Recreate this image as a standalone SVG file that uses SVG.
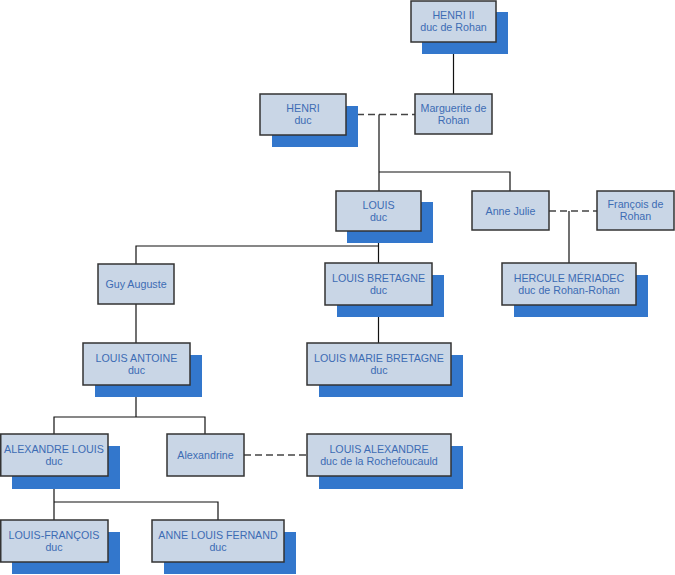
<svg xmlns="http://www.w3.org/2000/svg" width="675" height="575" viewBox="0 0 675 575">
<style>
.sh{fill:#3377cc}
.bx{fill:#c9d6e6;stroke:#333;stroke-width:1.5}
.t{font-family:"Liberation Sans",Arial,sans-serif;font-size:10.7px;fill:#3d6cb4;text-anchor:middle}
.ln{fill:none;stroke:#111;stroke-width:1.2}
.ds{fill:none;stroke:#444;stroke-width:1.3;stroke-dasharray:7,4}
</style>
<rect width="675" height="575" fill="#fff"/>
<g id="connectors">
<path class="ln" d="M453.5 42V94"/>
<path class="ds" d="M346 114.5H415"/>
<path class="ln" d="M379 114.5V191"/>
<path class="ln" d="M379 172H510V191"/>
<path class="ds" d="M549 211H597"/>
<path class="ln" d="M569 211V263"/>
<path class="ln" d="M378.5 231V263"/>
<path class="ln" d="M378.5 246H136V264"/>
<path class="ln" d="M136 304V343"/>
<path class="ln" d="M378.5 305V343"/>
<path class="ln" d="M136 385V417"/>
<path class="ln" d="M54 434V417H205V434"/>
<path class="ds" d="M244 455H307"/>
<path class="ln" d="M54 476V520"/>
<path class="ln" d="M54 502H218V520"/>
</g>
<g id="henri2"><rect class="sh" x="422" y="12" width="86" height="42"/><rect class="bx" x="411" y="1" width="85" height="41"/><text class="t" x="453.5" y="19">HENRI II</text><text class="t" x="453.5" y="31">duc de Rohan</text></g>
<g id="marguerite"><rect class="bx" x="415" y="94" width="77" height="40"/><text class="t" x="453.5" y="111.5">Marguerite de</text><text class="t" x="453.5" y="123.5">Rohan</text></g>
<g id="henri"><rect class="sh" x="272" y="106" width="86" height="41"/><rect class="bx" x="260" y="94" width="86" height="41"/><text class="t" x="303" y="112">HENRI</text><text class="t" x="303" y="124">duc</text></g>
<g id="louis"><rect class="sh" x="347" y="202" width="86" height="41"/><rect class="bx" x="336" y="191" width="85" height="40"/><text class="t" x="378.5" y="208.5">LOUIS</text><text class="t" x="378.5" y="220.5">duc</text></g>
<g id="annejulie"><rect class="bx" x="472" y="191" width="77" height="39"/><text class="t" x="510.5" y="214.5">Anne Julie</text></g>
<g id="francois"><rect class="bx" x="597" y="191" width="77" height="39"/><text class="t" x="635.5" y="208">François de</text><text class="t" x="635.5" y="220">Rohan</text></g>
<g id="guy"><rect class="bx" x="98" y="264" width="76" height="40"/><text class="t" x="136" y="288">Guy Auguste</text></g>
<g id="louisbretagne"><rect class="sh" x="337" y="275" width="107" height="42"/><rect class="bx" x="325" y="263" width="107" height="42"/><text class="t" x="378.5" y="281.5">LOUIS BRETAGNE</text><text class="t" x="378.5" y="293.5">duc</text></g>
<g id="hercule"><rect class="sh" x="514" y="275" width="134" height="42"/><rect class="bx" x="502" y="263" width="134" height="42"/><text class="t" x="569" y="281.5">HERCULE MÉRIADEC</text><text class="t" x="569" y="293.5">duc de Rohan-Rohan</text></g>
<g id="louisantoine"><rect class="sh" x="95" y="355" width="107" height="42"/><rect class="bx" x="83" y="343" width="107" height="42"/><text class="t" x="136.5" y="361.5">LOUIS ANTOINE</text><text class="t" x="136.5" y="373.5">duc</text></g>
<g id="louismarie"><rect class="sh" x="319" y="355" width="144" height="42"/><rect class="bx" x="307" y="343" width="144" height="42"/><text class="t" x="379" y="361.5">LOUIS MARIE BRETAGNE</text><text class="t" x="379" y="373.5">duc</text></g>
<g id="alexandrelouis"><rect class="sh" x="12" y="446" width="108" height="43"/><rect class="bx" x="0.75" y="434" width="107.25" height="42"/><text class="t" x="54" y="452.5">ALEXANDRE LOUIS</text><text class="t" x="54" y="464.5">duc</text></g>
<g id="alexandrine"><rect class="bx" x="167" y="434" width="77" height="42"/><text class="t" x="205.5" y="459">Alexandrine</text></g>
<g id="louisalexandre"><rect class="sh" x="319" y="446" width="144" height="43"/><rect class="bx" x="307" y="434" width="144" height="42"/><text class="t" x="379" y="452.5">LOUIS ALEXANDRE</text><text class="t" x="379" y="464.5">duc de la Rochefoucauld</text></g>
<g id="louisfrancois"><rect class="sh" x="12" y="532" width="108" height="42"/><rect class="bx" x="0.75" y="520" width="107.25" height="42"/><text class="t" x="54" y="538.5">LOUIS-FRANÇOIS</text><text class="t" x="54" y="550.5">duc</text></g>
<g id="annelouis"><rect class="sh" x="164" y="532" width="132" height="42"/><rect class="bx" x="152" y="520" width="132" height="42"/><text class="t" x="218" y="538.5">ANNE LOUIS FERNAND</text><text class="t" x="218" y="550.5">duc</text></g>
</svg>
